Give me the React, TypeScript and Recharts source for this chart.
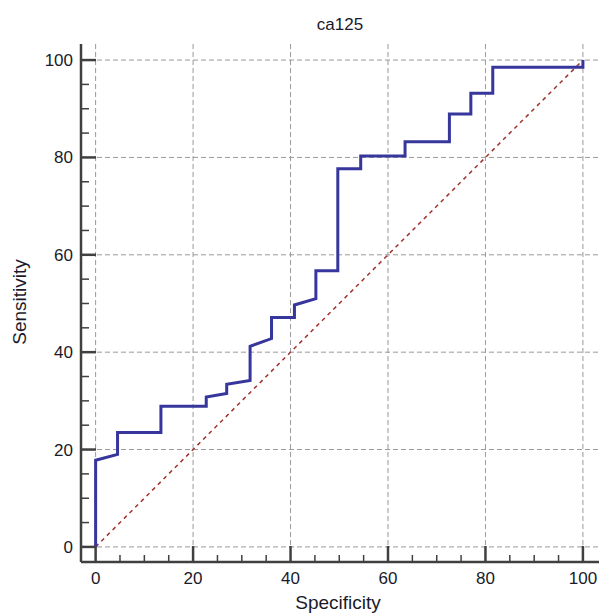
import { LineChart, Line, XAxis, YAxis, CartesianGrid } from 'recharts'

// ROC curve for ca125 (x = specificity axis, y = sensitivity)
const rocX = [0, 0, 4.5, 4.5, 13.4, 13.4, 22.7, 22.7, 26.9, 26.9, 31.7, 31.7, 36.1, 36.1, 40.8, 40.8, 45.2, 45.2, 49.7, 49.7, 54.4, 54.4, 63.5, 63.5, 72.6, 72.6, 77.0, 77.0, 81.5, 81.5, 100, 100]
const rocY = [0, 17.8, 19.0, 23.5, 23.5, 28.9, 28.9, 30.8, 31.5, 33.4, 34.2, 41.2, 42.8, 47.1, 47.1, 49.7, 51.0, 56.7, 56.7, 77.7, 77.7, 80.3, 80.3, 83.2, 83.2, 88.9, 88.9, 93.2, 93.2, 98.5, 98.5, 100]

const diagX = [0, 100]
const diagY = [0, 100]

const axisTicks = [0, 5, 10, 15, 20, 25, 30, 35, 40, 45, 50, 55, 60, 65, 70, 75, 80, 85, 90, 95, 100]
const gridTicks = [0, 20, 40, 60, 80, 100]

const rocData = rocX.map((x, i) => ({ x, y: rocY[i] }))
const diagData = diagX.map((x, i) => ({ x, y: diagY[i] }))

const font = '"Liberation Sans", Arial, sans-serif'
const axisColor = '#404040'

const XTick = ({ x, y, payload }: any) => {
  const major = payload.value % 20 === 0
  return (
    <g>
      <line x1={x} x2={x} y1={y} y2={y - (major ? 16 : 7)} stroke={axisColor} strokeWidth={major ? 2.5 : 1.5} />
      {major && (
        <text x={x} y={y + 22} textAnchor="middle" fontSize={17} fontFamily={font} fill="#1a1a2a">
          {payload.value}
        </text>
      )}
    </g>
  )
}

const YTick = ({ x, y, payload }: any) => {
  const major = payload.value % 20 === 0
  return (
    <g>
      <line x1={x} x2={x + (major ? 15 : 8)} y1={y} y2={y} stroke={axisColor} strokeWidth={major ? 2.5 : 1.5} />
      {major && (
        <text x={x - 8} y={y + 6} textAnchor="end" fontSize={17} fontFamily={font} fill="#1a1a2a">
          {payload.value}
        </text>
      )}
    </g>
  )
}

export default function App() {
  return (
    <div style={{ position: 'absolute', left: 0, top: 0, width: 599, height: 615, background: '#fff', fontFamily: font, overflow: 'hidden' }}>
      <div style={{ position: 'absolute', left: 81, width: 518, top: 15, textAlign: 'center', fontSize: 17, color: '#1a1a2a' }}>
        ca125
      </div>
      <div style={{ position: 'absolute', left: 81, width: 514, top: 592, textAlign: 'center', fontSize: 19, color: '#1a1a2a' }}>
        Specificity
      </div>
      <div
        style={{
          position: 'absolute',
          left: 20,
          top: 302,
          transform: 'translate(-50%, -50%) rotate(-90deg)',
          fontSize: 19,
          color: '#1a1a2a',
          whiteSpace: 'nowrap',
        }}
      >
        Sensitivity
      </div>
      <div style={{ position: 'absolute', left: 0, top: 0 }}>
        <LineChart width={599} height={615} margin={{ top: 44, right: 0, bottom: 13, left: 21 }}>
          <CartesianGrid
            stroke="#999999"
            strokeDasharray="5 3"
            horizontalValues={gridTicks}
            verticalValues={gridTicks}
          />
          <XAxis
            dataKey="x"
            type="number"
            domain={[-3, 103.3]}
            ticks={axisTicks}
            interval={0}
            tickSize={0}
            tickMargin={0}
            tickLine={false}
            tick={<XTick />}
            height={40}
            allowDataOverflow
            axisLine={{ stroke: axisColor, strokeWidth: 2.5 }}
          />
          <YAxis
            dataKey="y"
            type="number"
            domain={[-3.1, 103.3]}
            ticks={axisTicks}
            interval={0}
            tickSize={0}
            tickMargin={0}
            tickLine={false}
            tick={<YTick />}
            width={60}
            allowDataOverflow
            axisLine={{ stroke: axisColor, strokeWidth: 2.5 }}
          />
          <Line
            data={diagData}
            dataKey="y"
            type="linear"
            stroke="#a0302c"
            strokeWidth={1.5}
            strokeDasharray="4 4"
            dot={false}
            activeDot={false}
            isAnimationActive={false}
          />
          <Line
            data={rocData}
            dataKey="y"
            type="linear"
            stroke="#36369c"
            strokeWidth={3}
            dot={false}
            activeDot={false}
            isAnimationActive={false}
          />
        </LineChart>
      </div>
    </div>
  )
}
